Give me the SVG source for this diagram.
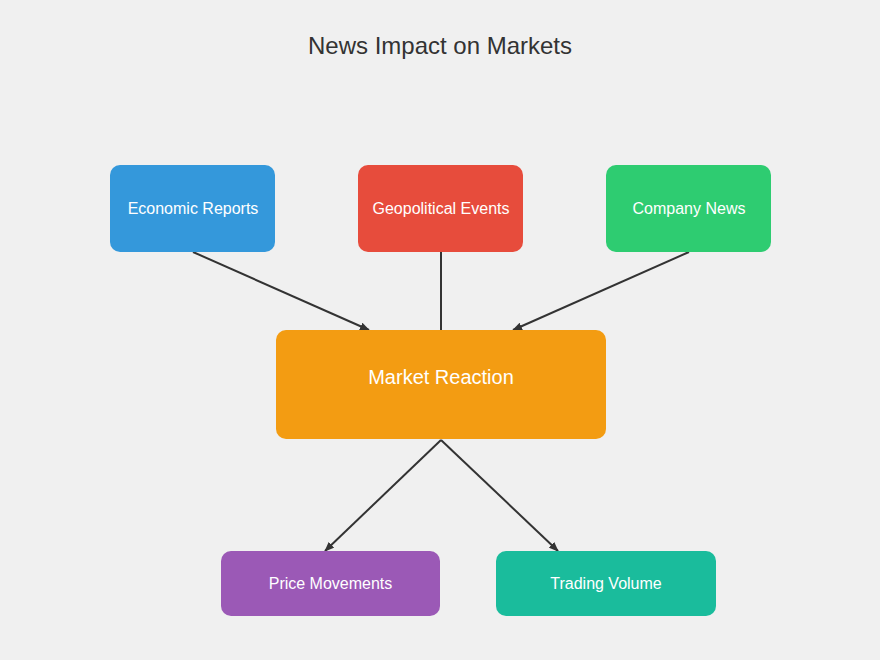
<svg xmlns="http://www.w3.org/2000/svg" width="880" height="660" viewBox="0 0 880 660">
<style>
text{font-family:"Liberation Sans",Arial,sans-serif;fill:#fff;text-anchor:middle;dominant-baseline:central}
.c line{stroke:#333;stroke-width:2}
</style>
<defs><marker id="a" markerWidth="10" markerHeight="8" refX="9" refY="4" orient="auto" markerUnits="userSpaceOnUse"><path d="M0,0 L10,4 L0,8 Z" fill="#333"/></marker></defs>
<rect width="880" height="660" fill="#f0f0f0"/>
<text x="440" y="45" style="fill:#333;font-size:24px">News Impact on Markets</text>
<g class="c">
<line x1="193" y1="252" x2="369" y2="330" marker-end="url(#a)"/>
<line x1="441" y1="252" x2="441" y2="330"/>
<line x1="689" y1="252" x2="513" y2="330" marker-end="url(#a)"/>
<line x1="441" y1="440" x2="325" y2="551" marker-end="url(#a)"/>
<line x1="441" y1="440" x2="558" y2="551" marker-end="url(#a)"/>
</g>
<g id="economic"><rect x="110" y="165" width="165" height="87" rx="10" fill="#3498db"/><text x="193" y="208" font-size="16">Economic Reports</text></g>
<g id="geopolitical"><rect x="358" y="165" width="165" height="87" rx="10" fill="#e74c3c"/><text x="441" y="208" font-size="16">Geopolitical Events</text></g>
<g id="company"><rect x="606" y="165" width="165" height="87" rx="10" fill="#2ecc71"/><text x="689" y="208" font-size="16">Company News</text></g>
<g id="market"><rect x="276" y="330" width="330" height="109" rx="10" fill="#f39c12"/><text x="441" y="377" font-size="20">Market Reaction</text></g>
<g id="price"><rect x="221" y="551" width="219" height="65" rx="10" fill="#9b59b6"/><text x="330.5" y="583" font-size="16">Price Movements</text></g>
<g id="volume"><rect x="496" y="551" width="220" height="65" rx="10" fill="#1abc9c"/><text x="606" y="583" font-size="16">Trading Volume</text></g>
</svg>
